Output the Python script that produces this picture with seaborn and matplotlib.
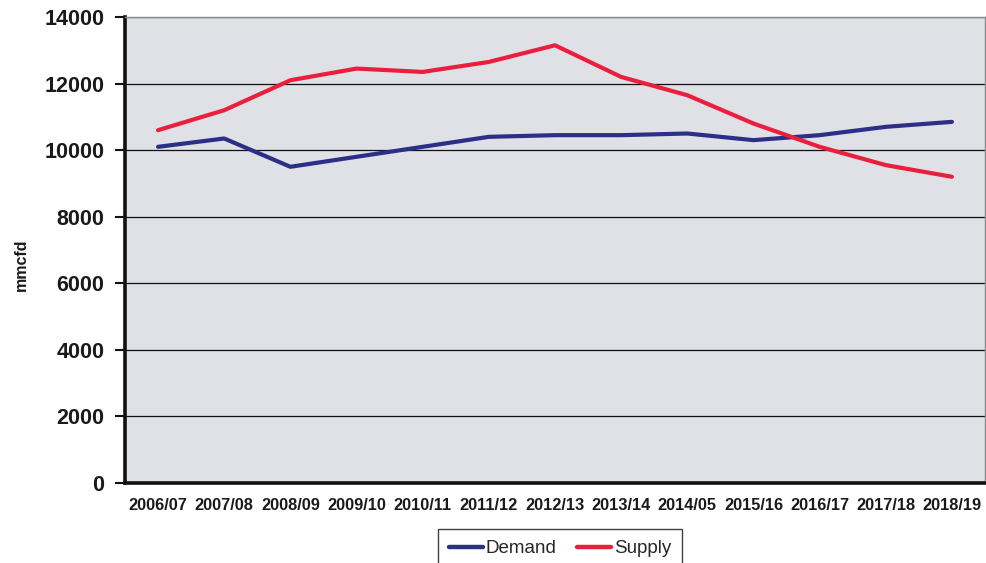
import matplotlib
matplotlib.use("Agg")
import matplotlib.pyplot as plt
from matplotlib.ticker import FixedLocator
import seaborn as sns
import pandas as pd

# Gas balance by financial year (mmcfd)
seasons = ["2006/07", "2007/08", "2008/09", "2009/10", "2010/11", "2011/12",
           "2012/13", "2013/14", "2014/05", "2015/16", "2016/17", "2017/18",
           "2018/19"]
demand = [10100, 10350, 9500, 9800, 10100, 10400, 10450, 10450, 10500,
          10300, 10450, 10700, 10850]
supply = [10600, 11200, 12100, 12450, 12350, 12650, 13150, 12200, 11650,
          10800, 10100, 9550, 9200]
series_names = ["Demand", "Supply"]
series_colors = ["#2c2f86", "#ea1f3d"]
y_ticks = [0, 2000, 4000, 6000, 8000, 10000, 12000, 14000]

sns.set_style("white")
plt.rcParams["font.family"] = ["Liberation Sans", "DejaVu Sans"]

pos = list(range(len(seasons)))
df = pd.DataFrame({
    "pos": pos * 2,
    "value": demand + supply,
    "series": [series_names[0]] * len(pos) + [series_names[1]] * len(pos),
})

fig = plt.figure(figsize=(9.87, 5.63), dpi=100)
ax = fig.add_axes([125 / 987, 1 - 483 / 563, 860 / 987, 466 / 563])
ax.set_facecolor("#dfe1e7")

sns.lineplot(data=df, x="pos", y="value", hue="series",
             palette=dict(zip(series_names, series_colors)),
             linewidth=3.0, ax=ax, legend=False, zorder=3)

ax.set_xlim(-0.5, len(seasons) - 0.5)
ax.set_ylim(0, 14000)

# Category labels centred, tick marks between categories
ax.xaxis.set_major_locator(FixedLocator(pos))
ax.set_xticklabels(seasons, fontsize=11.8, fontweight="bold", color="#1a1a1a")
ax.xaxis.set_minor_locator(FixedLocator([p + 0.5 for p in pos[:-1]]))
ax.tick_params(axis="x", which="major", length=0, pad=11)
ax.tick_params(axis="x", which="minor", length=4, width=2, color="#222222",
               direction="out")

ax.set_yticks(y_ticks)
ax.set_yticklabels([str(v) for v in y_ticks], fontsize=15.5,
                   fontweight="bold", color="#1a1a1a")
ax.tick_params(axis="y", which="major", length=7, width=1.5, pad=8,
               color="#111111", direction="out", left=True)

ax.grid(axis="y", color="#111111", linewidth=0.9, zorder=1)
ax.set_axisbelow(True)

for side in ("left", "bottom"):
    ax.spines[side].set_color("#111111")
    ax.spines[side].set_linewidth(2.6)
for side in ("top", "right"):
    ax.spines[side].set_color("#8a8a8a")
    ax.spines[side].set_linewidth(1.0)

ax.set_xlabel("")
ax.set_ylabel("mmcfd", fontsize=11.5, fontweight="bold", color="#1a1a1a")
ax.yaxis.set_label_coords(-0.112, 0.468)

handles = [plt.Line2D([], [], color=c, linewidth=3.2) for c in series_colors]
leg = fig.legend(handles, series_names, loc="upper center", ncol=2,
                 bbox_to_anchor=(560 / 987, 1 - 529 / 563),
                 frameon=True, fancybox=False, shadow=False,
                 fontsize=13.5, handlelength=1.8, handletextpad=0.15,
                 columnspacing=1.1, borderpad=0.6, borderaxespad=0)
leg.get_frame().set_edgecolor("#111111")
leg.get_frame().set_linewidth(1.0)

fig.savefig("out.png", dpi=100, facecolor="white")
